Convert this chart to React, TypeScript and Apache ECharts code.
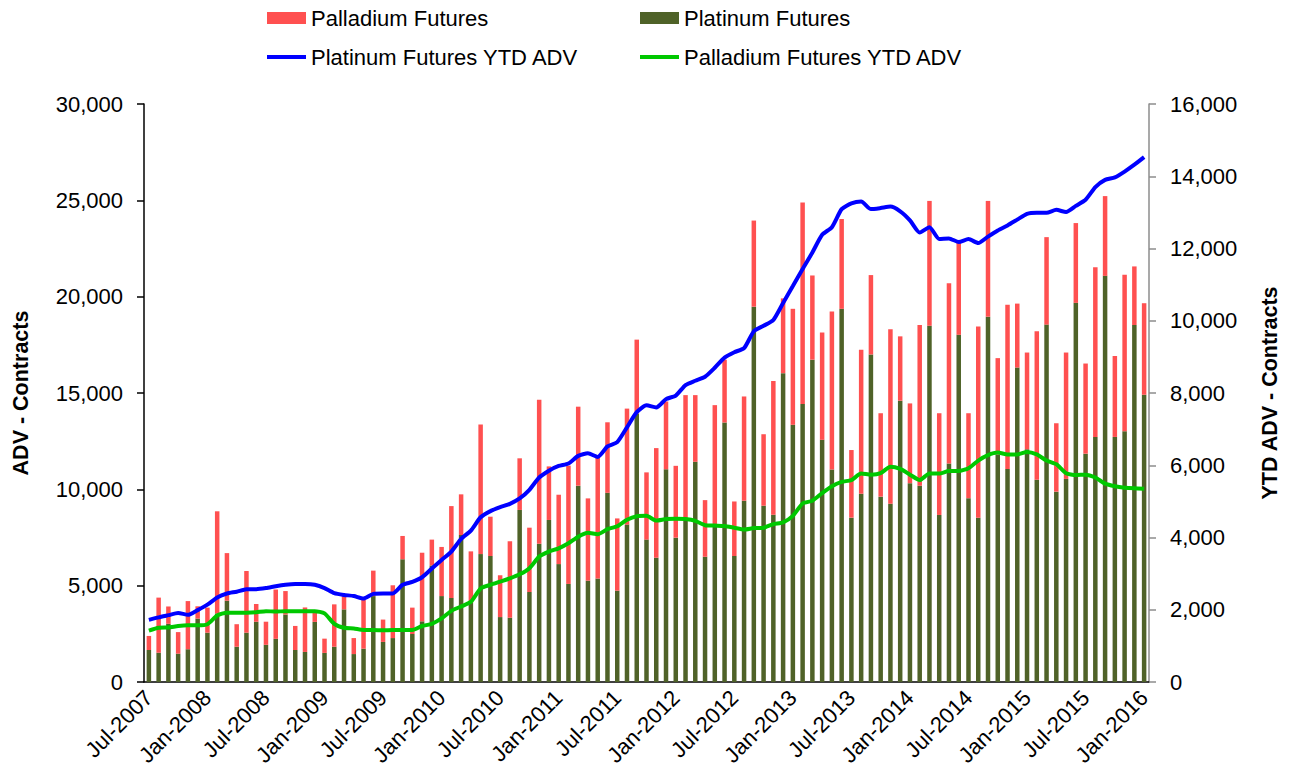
import React, { useEffect, useRef } from "react";
import * as echarts from "echarts";

const MONTH_NAMES = ["Jan", "Feb", "Mar", "Apr", "May", "Jun", "Jul", "Aug", "Sep", "Oct", "Nov", "Dec"];
// Jul-2007 .. Jan-2016 (103 months)
const categories: string[] = [];
for (let i = 0; i < 103; i++) {
  const m = (6 + i) % 12;
  const y = 2007 + Math.floor((6 + i) / 12);
  categories.push(`${MONTH_NAMES[m]}-${y}`);
}

const platinumFutures = [
  1660, 1520, 3020, 1470, 1700, 3290, 2560, 3560, 4220, 1830, 2560, 3130, 1930, 2240, 3500, 1660, 1560, 3120, 1510, 1830,
  3770, 1450, 1730, 4460, 2080, 2280, 6370, 2490, 3150, 6050, 4460, 4360, 7630, 4120, 6640, 6540, 3370, 3340, 8930, 4670,
  7180, 8410, 6120, 5090, 10190, 5260, 5370, 9820, 4740, 8170, 13940, 7390, 6450, 11040, 7490, 8400, 11430, 6500, 8100, 13470,
  6540, 9410, 19480, 9150, 8680, 16030, 13350, 14430, 16730, 12570, 11030, 19370, 8530, 9770, 17000, 9620, 9250, 14600, 10320, 10190,
  18490, 8670, 11340, 18020, 9540, 8530, 18960, 11810, 11060, 16320, 12080, 10500, 18550, 9880, 10540, 19680, 11850, 12720, 21080, 12720,
  13020, 18530, 14910,
];

const palladiumFutures = [
  730, 2860, 900, 1120, 2500, 640, 1300, 5300, 2470, 1170, 3200, 920, 1200, 2560, 1220, 1250, 2310, 490, 740, 2200,
  690, 830, 2530, 1320, 1160, 2740, 1210, 1370, 3560, 1340, 2550, 4770, 2110, 2660, 6730, 2040, 2170, 3960, 2680, 3340,
  7470, 2780, 3600, 6140, 4100, 4270, 6330, 3660, 3750, 6020, 3830, 3490, 5690, 3520, 3730, 6490, 3460, 2940, 6270, 3260,
  2830, 5410, 4470, 3710, 6940, 3880, 6020, 10460, 4370, 5570, 8200, 4660, 3510, 7470, 4120, 4330, 9060, 3340, 4140, 8340,
  6480, 5280, 9360, 4800, 4410, 9920, 6010, 5000, 8520, 3320, 5020, 7710, 4540, 3550, 6560, 4140, 4680, 8810, 4140, 4200,
  8120, 3040, 4750,
];

const platinumYtdAdv = [
  1720, 1790, 1850, 1910, 1860, 1990, 2140, 2340, 2450, 2500, 2570, 2570, 2600, 2650, 2690, 2710, 2710, 2690, 2600, 2460,
  2410, 2380, 2310, 2440, 2450, 2450, 2690, 2770, 2900, 3140, 3380, 3610, 3960, 4190, 4560, 4730, 4840, 4930, 5080, 5320,
  5660, 5850, 5980, 6050, 6260, 6330, 6230, 6520, 6640, 7050, 7470, 7660, 7600, 7830, 7930, 8220, 8340, 8450, 8700, 8980,
  9130, 9240, 9710, 9860, 10020, 10490, 10960, 11430, 11890, 12380, 12590, 13090, 13250, 13300, 13090, 13120, 13160, 13030, 12780, 12440,
  12590, 12260, 12280, 12180, 12260, 12150, 12330, 12500, 12640, 12800, 12960, 12990, 12990, 13070, 13010, 13180, 13350, 13700, 13900, 13970,
  14130, 14320, 14530,
];

const palladiumYtdAdv = [
  1420, 1500, 1510, 1550, 1570, 1570, 1600, 1840, 1920, 1920, 1920, 1930, 1960, 1950, 1960, 1960, 1960, 1960, 1900, 1610,
  1500, 1480, 1440, 1440, 1430, 1440, 1440, 1440, 1550, 1610, 1760, 1970, 2090, 2220, 2590, 2690, 2780, 2870, 2980, 3150,
  3470, 3610, 3700, 3840, 4020, 4130, 4090, 4230, 4310, 4490, 4590, 4600, 4470, 4510, 4520, 4510, 4460, 4340, 4330, 4320,
  4270, 4220, 4260, 4270, 4370, 4420, 4600, 4940, 5020, 5230, 5420, 5540, 5590, 5770, 5740, 5780, 5960, 5900, 5740, 5590,
  5770, 5770, 5840, 5840, 5920, 6130, 6280, 6350, 6300, 6300, 6370, 6300, 6130, 6030, 5780, 5730, 5740, 5660, 5490, 5420,
  5380, 5360, 5350,
];

const leftTicks = { min: 0, max: 30000, interval: 5000 };
const rightTicks = { min: 0, max: 16000, interval: 2000 };

const FONT = "'Liberation Sans', Arial, Helvetica, sans-serif";
const RED = "#FF5050";
const OLIVE = "#4F6228";
const BLUE = "#0000FF";
const GREEN = "#00C800";

const fmt = (v: number) => v.toLocaleString("en-US");

export default function App() {
  const ref = useRef<HTMLDivElement>(null);

  useEffect(() => {
    if (!ref.current) return;
    const chart = echarts.init(ref.current, undefined, { renderer: "svg" });
    const legendText = { fontFamily: FONT, fontSize: 22, color: "#000" };
    const mkLegend = (name: string, left: number, top: number, isLine: boolean) => ({
      show: true,
      left,
      top,
      padding: 0,
      itemWidth: 39,
      itemHeight: isLine ? 4 : 12,
      itemGap: 0,
      selectedMode: false,
      textStyle: legendText,
      data: [{ name, icon: "rect" }],
    });

    chart.setOption({
      animation: false,
      backgroundColor: "#fff",
      textStyle: { fontFamily: FONT },
      legend: [
        mkLegend("Palladium Futures", 267, 7, false),
        mkLegend("Platinum Futures", 640, 7, false),
        mkLegend("Platinum Futures YTD ADV", 267, 46, true),
        mkLegend("Palladium Futures YTD ADV", 640, 46, true),
      ],
      grid: { left: 144, right: 143, top: 104, bottom: 96, containLabel: false, outerBoundsMode: "none" },
      xAxis: {
        type: "category",
        data: categories,
        boundaryGap: true,
        axisLine: { lineStyle: { color: "#000", width: 1.5 } },
        axisTick: { interval: 5, length: 6, lineStyle: { color: "#000", width: 1.5 } },
        axisLabel: {
          interval: 5,
          rotate: 45,
          margin: 12,
          fontFamily: FONT,
          fontSize: 22,
          color: "#000",
        },
        splitLine: { show: false },
      },
      yAxis: [
        {
          type: "value",
          ...leftTicks,
          position: "left",
          name: "ADV - Contracts",
          nameLocation: "middle",
          nameGap: 112,
          nameRotate: 90,
          nameTextStyle: { fontFamily: FONT, fontSize: 21.5, fontWeight: "bold", color: "#000" },
          axisLine: { show: true, lineStyle: { color: "#000", width: 1.5 } },
          axisTick: { show: true, length: 7, lineStyle: { color: "#000", width: 1.5 } },
          axisLabel: { margin: 21, fontFamily: FONT, fontSize: 22, color: "#000", formatter: fmt },
          splitLine: { show: false },
        },
        {
          type: "value",
          ...rightTicks,
          position: "right",
          name: "YTD ADV - Contracts",
          nameLocation: "middle",
          nameGap: 110,
          nameRotate: 90,
          nameTextStyle: { fontFamily: FONT, fontSize: 21.5, fontWeight: "bold", color: "#000" },
          axisLine: { show: true, lineStyle: { color: "#8C8C8C", width: 1.5 } },
          axisTick: { show: true, length: 7, lineStyle: { color: "#8C8C8C", width: 1.5 } },
          axisLabel: { margin: 21, fontFamily: FONT, fontSize: 22, color: "#000", formatter: fmt },
          splitLine: { show: false },
        },
      ],
      series: [
        {
          name: "Platinum Futures",
          type: "bar",
          stack: "adv",
          data: platinumFutures,
          barWidth: 4.5,
          itemStyle: { color: OLIVE },
        },
        {
          name: "Palladium Futures",
          type: "bar",
          stack: "adv",
          data: palladiumFutures,
          barWidth: 4.5,
          itemStyle: { color: RED },
        },
        {
          name: "Platinum Futures YTD ADV",
          type: "line",
          yAxisIndex: 1,
          data: platinumYtdAdv,
          symbol: "none",
          smooth: 0.2,
          lineStyle: { color: BLUE, width: 4 },
          itemStyle: { color: BLUE },
          z: 5,
        },
        {
          name: "Palladium Futures YTD ADV",
          type: "line",
          yAxisIndex: 1,
          data: palladiumYtdAdv,
          symbol: "none",
          smooth: 0.2,
          lineStyle: { color: GREEN, width: 4 },
          itemStyle: { color: GREEN },
          z: 5,
        },
      ],
    });
    return () => chart.dispose();
  }, []);

  return (
    <div
      ref={ref}
      style={{ position: "absolute", left: 0, top: 0, width: 1292, height: 778, background: "#fff" }}
    />
  );
}
